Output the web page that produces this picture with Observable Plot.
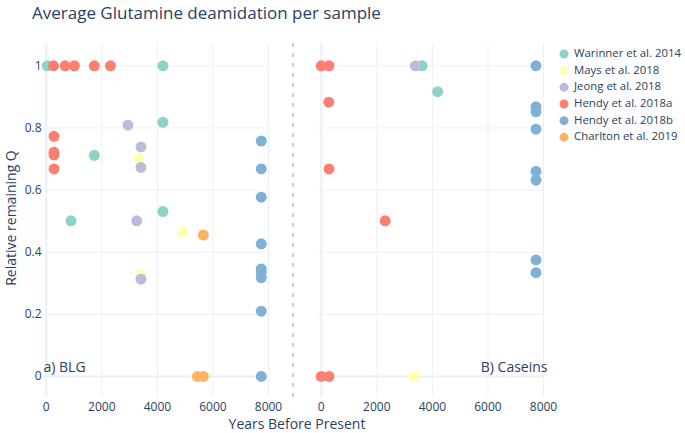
<!DOCTYPE html>
<html><head><meta charset="utf-8">
<script src="https://cdn.jsdelivr.net/npm/d3@7"></script>
<script src="https://cdn.jsdelivr.net/npm/@observablehq/plot@0.6"></script>
<style>
body{margin:0;background:#fff;font-family:"Open Sans",sans-serif;}
#wrap{position:relative;width:685px;height:433px;}
#chart{position:absolute;left:0;top:0;}
#legend{position:absolute;left:555px;top:44px;width:130px;height:104px;}
</style></head><body>
<div id="wrap">
  <div id="chart"></div>
  <div id="legend"></div>
</div>
<script>
// ---- data ----
const titleText = "Average Glutamine deamidation per sample";
const panels = ["a) BLG", "B) Caseins"];
const studies = ["Warinner et al. 2014", "Mays et al. 2018", "Jeong et al. 2018",
                 "Hendy et al. 2018a", "Hendy et al. 2018b", "Charlton et al. 2019"];
const palette = ["#8dd3c7", "#ffffb3", "#bebada", "#fb8072", "#80b1d3", "#fdb462"];
const xTicks = [0, 2000, 4000, 6000, 8000];
const yTicks = [0, 0.2, 0.4, 0.6, 0.8, 1];

// BLG panel (study index, years BP, relative remaining Q)
const blgStudy = [0,0,0,0,0,0, 1,1,1, 2,2,2,2,2, 3,3,3,3,3,3,3,3,3, 4,4,4,4,4,4,4,4,4, 5,5,5];
const blgYears = [40,4200,4200,1730,890,4200, 3340,4900,3400, 2940,3410,3410,3255,3410,
                  260,680,1010,1730,2310,280,280,280,280,
                  7740,7740,7740,7740,7740,7740,7740,7740,7740, 5655,5440,5655];
const blgQ = [1,1,0.818,0.712,0.501,0.531, 0.701,0.465,0.330, 0.809,0.739,0.673,0.501,0.313,
              1,1,1,1,1,0.773,0.722,0.713,0.668,
              0.758,0.668,0.577,0.427,0.346,0.335,0.318,0.21,0, 0.455,0,0];

// Caseins panel
const casStudy = [0,0, 1, 2, 3,3,3,3,3,3,3, 4,4,4,4,4,4,4,4];
const casYears = [3630,4190, 3330, 3390, 0,280,270,280,2300,0,280,
                  7730,7730,7730,7730,7730,7730,7730,7730];
const casQ = [1,0.917, 0, 1, 1,1,0.883,0.668,0.501,0,0,
              1,0.868,0.852,0.796,0.66,0.632,0.375,0.334];

// ---- table ----
const points = [];
blgStudy.forEach((s, i) => points.push({panel: panels[0], study: studies[s], years: blgYears[i], q: blgQ[i]}));
casStudy.forEach((s, i) => points.push({panel: panels[1], study: studies[s], years: casYears[i], q: casQ[i]}));

const fontColor = "#2a3f5f";
const gridColor = "#ebf0f8";

const chart = Plot.plot({
  width: 685, height: 433,
  marginLeft: 43, marginRight: 142, marginTop: 43, marginBottom: 36,
  style: {fontFamily: "Open Sans", fontSize: "12px", color: fontColor, background: "transparent", overflow: "visible"},
  fx: {domain: panels, paddingInner: 0.182, paddingOuter: 0, axis: null, label: null},
  x: {domain: [-100, 8000], label: null},
  y: {domain: [-0.068, 1.072], label: null},
  color: {domain: studies, range: palette},
  marks: [
    Plot.gridX(xTicks, {stroke: gridColor, strokeOpacity: 1, strokeWidth: d => d === 0 ? 2 : 1}),
    Plot.gridY(yTicks, {stroke: gridColor, strokeOpacity: 1, strokeWidth: d => d === 0 ? 2 : 1}),
    Plot.axisX(xTicks, {tickSize: 0, tickPadding: 5, tickFormat: d => String(d), label: null, fill: fontColor, fontSize: 12}),
    Plot.axisY(yTicks, {tickSize: 0, tickPadding: 2, tickFormat: d => String(+d.toFixed(1)), label: null, fill: fontColor, fontSize: 12}),
    Plot.dot(points, {fx: "panel", x: "years", y: "q", fill: "study", r: 5.5}),
    Plot.text([panels[0]], {fx: d => d, text: d => d, frameAnchor: "bottom-left", textAnchor: "start",
                            dx: 0, dy: -26, fontSize: 14, fill: fontColor}),
    Plot.text([panels[1]], {fx: d => d, text: d => d, frameAnchor: "bottom-right", textAnchor: "end",
                            dx: 4, dy: -26, fontSize: 14, fill: fontColor})
  ]
});
document.getElementById("chart").appendChild(chart);

// separator line between panels, from the facet scale
const fx = chart.scale("fx");
const svg = d3.select(chart);
const x0 = fx.apply(panels[0]), x1 = fx.apply(panels[1]);
const sep = (x0 + fx.bandwidth + x1) / 2;
svg.append("line")
  .attr("x1", sep).attr("x2", sep).attr("y1", 43).attr("y2", 397)
  .attr("stroke", "#9a9a9a").attr("stroke-width", 1).attr("stroke-dasharray", "4,6");

// title
svg.append("text")
  .attr("x", 32).attr("y", 18.5).attr("text-anchor", "start")
  .attr("font-size", 17).attr("fill", fontColor).attr("font-family", "Open Sans")
  .text(titleText);

// axis titles
svg.append("text")
  .attr("x", 297).attr("y", 425).attr("text-anchor", "middle").attr("dominant-baseline", "middle")
  .attr("font-size", 14).attr("fill", fontColor).attr("font-family", "Open Sans")
  .text("Years Before Present");
svg.append("text")
  .attr("transform", "translate(12,218) rotate(-90)").attr("text-anchor", "middle").attr("dominant-baseline", "middle")
  .attr("font-size", 14).attr("fill", fontColor).attr("font-family", "Open Sans")
  .text("Relative remaining Q");

// legend (its box starts at 555,44 on the page)
const leg = d3.select("#legend").append("svg").attr("width", 130).attr("height", 104);
const rows = leg.selectAll("g").data(studies).join("g")
  .attr("transform", (d, i) => `translate(9,${10 + i * 16.67})`);
rows.append("circle").attr("r", 4.5).attr("fill", (d, i) => palette[i]);
rows.append("text").attr("x", 10).attr("dominant-baseline", "middle")
  .attr("font-size", 11.4).attr("font-family", "Open Sans").attr("fill", fontColor).text(d => d);
</script>
</body></html>
